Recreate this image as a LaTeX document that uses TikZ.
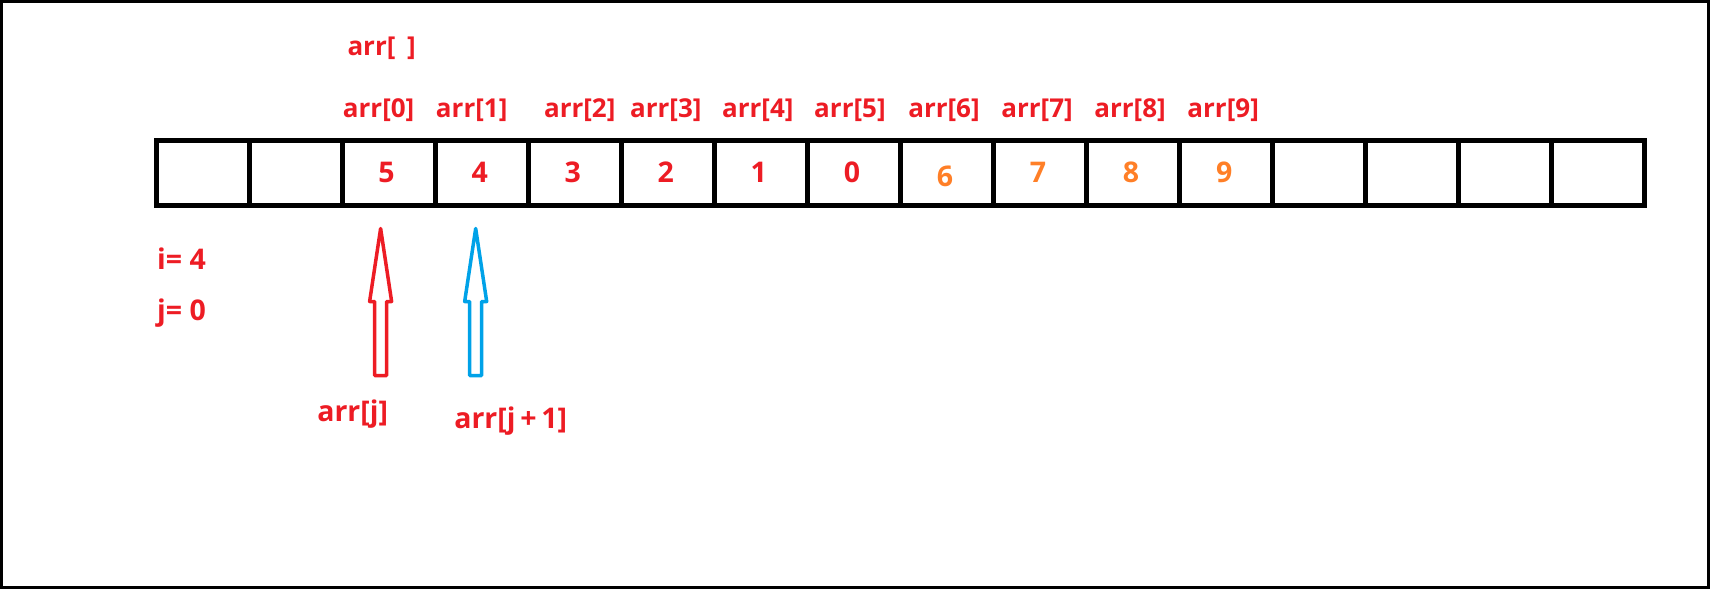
\documentclass[tikz,border=0pt]{standalone}
\usepackage{fontspec}
\setmainfont{Open Sans}
\usetikzlibrary{positioning}
\definecolor{myred}{HTML}{ED1C24}
\definecolor{myorange}{HTML}{FF7F27}
\definecolor{myblue}{HTML}{00A2E8}

\begin{document}
\begin{tikzpicture}[x=1pt,y=1pt]
  \tikzstyle{mycell}=[draw,line width=5pt,minimum width=93pt,minimum height=65pt,inner sep=0pt]
  \tikzstyle{mylabel}=[text=myred,font=\fontsize{26}{30}\selectfont\bfseries,inner sep=0pt]
  \tikzstyle{biglabel}=[mylabel,font=\fontsize{28.5}{32}\selectfont\bfseries]
  \tikzstyle{myarrow}=[line width=3.5pt,line join=round]
  \useasboundingbox (0,0) rectangle (1712,-590);
  \draw[line width=3pt] (1.5,-1.5) rectangle (1708.5,-587.5);
  % the array
  \foreach \n in {0,...,15}
    \node[mycell] (c\n) at (202.5+93.06*\n,-172.5) {};
  \foreach \n/\v/\c/\dy in {2/5/myred/0,3/4/myred/0,4/3/myred/0,5/2/myred/0,6/1/myred/0,7/0/myred/0,8/6/myorange/-4,9/7/myorange/0,10/8/myorange/0,11/9/myorange/0}
    \node[biglabel,text=\c] (v\n) at ([xshift=-2,yshift=\dy]c\n.center) {\v};
  % index names
  \node[mylabel] (arr) at ([xshift=-7,yshift=89]c2.north) {arr[\hspace{0.45em}]};
  \foreach \k/\dx in {0/-10,1/-10,2/5,3/-2,4/-3,5/-4,6/-3,7/-3,8/-3,9/-3}{
    \pgfmathtruncatemacro\m{\k+2}
    \node[mylabel] (l\k) at ([xshift=\dx,yshift=27]c\m.north) {arr[\k]};
  }
  \node[biglabel,anchor=west] (ii) at (157,-259) {i= 4};
  \node[biglabel,anchor=west] (jj) at (157,-313) {j= 0};
  % pointers
  \coordinate (tj) at ([xshift=-8,yshift=-21]c2.south);
  \coordinate (tk) at ([xshift=-6,yshift=-21]c3.south);
  \foreach \t/\c in {tj/myred,tk/myblue}
    \draw[myarrow,draw=\c] (\t) -- ++(11,-73) -- ++(-5,0) -- ++(0,-74) -- ++(-12,0)
      -- ++(0,74) -- ++(-5,0) -- cycle;
  \node[biglabel] (nj) at ([xshift=-28,yshift=-186]tj) {arr[j]};
  \node[biglabel] (nk) at ([xshift=35,yshift=-193]tk) {arr[j\,+\,1]};
\end{tikzpicture}
\end{document}
